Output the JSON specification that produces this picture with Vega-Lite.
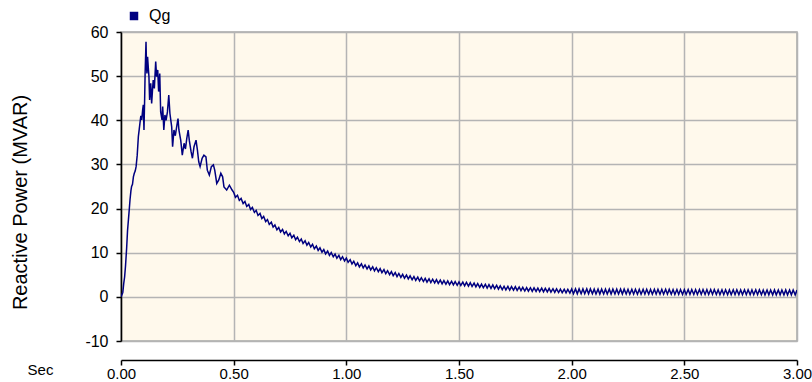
{
  "$schema": "https://vega.github.io/schema/vega-lite/v6.json",
  "width": 676,
  "height": 309,
  "autosize": {"type": "none"},
  "padding": {"left": 121, "top": 32, "right": 15, "bottom": 41},
  "background": "#ffffff",
  "config": {
    "font": "Liberation Sans",
    "view": {"fill": "#FFF9EC", "stroke": "#A8A8A8", "strokeWidth": 1.5}
  },
  "data": {"values": [
    {"t":0,"q":0},{"t":0.004,"q":0.5},{"t":0.008,"q":1.0},{"t":0.012,"q":3.0},{"t":0.016,"q":4.5},{"t":0.020,"q":7},{"t":0.025,"q":11},{"t":0.029,"q":15},{"t":0.033,"q":17.5},{"t":0.037,"q":20},{"t":0.040,"q":22},{"t":0.044,"q":24},{"t":0.047,"q":25},{"t":0.051,"q":25.5},{"t":0.055,"q":27.2},{"t":0.059,"q":28},{"t":0.063,"q":28.5},{"t":0.067,"q":29.5},{"t":0.072,"q":32.1},{"t":0.077,"q":36.3},{"t":0.081,"q":38},{"t":0.084,"q":39.3},{"t":0.088,"q":41},{"t":0.092,"q":40.1},{"t":0.096,"q":42.3},{"t":0.099,"q":43.5},{"t":0.102,"q":37.8},{"t":0.105,"q":45},{"t":0.107,"q":50.6},{"t":0.111,"q":57.8},{"t":0.113,"q":53},{"t":0.115,"q":50.6},{"t":0.118,"q":54.4},{"t":0.121,"q":52},{"t":0.124,"q":49.9},{"t":0.127,"q":44.6},{"t":0.132,"q":48.4},{"t":0.136,"q":43.8},{"t":0.140,"q":47},{"t":0.143,"q":49.1},{"t":0.148,"q":47.2},{"t":0.154,"q":53.3},{"t":0.158,"q":49.9},{"t":0.163,"q":51.4},{"t":0.167,"q":46.5},{"t":0.172,"q":50.6},{"t":0.176,"q":41.9},{"t":0.182,"q":40.1},{"t":0.185,"q":43.1},{"t":0.190,"q":37.8},{"t":0.195,"q":41.2},{"t":0.200,"q":40},{"t":0.206,"q":41.9},{"t":0.212,"q":45.7},{"t":0.217,"q":41.6},{"t":0.225,"q":38.5},{"t":0.229,"q":34.0},{"t":0.235,"q":37.8},{"t":0.241,"q":36.5},{"t":0.247,"q":38.5},{"t":0.253,"q":40.4},{"t":0.257,"q":37.8},{"t":0.265,"q":35.5},{"t":0.272,"q":32.1},{"t":0.280,"q":34.8},{"t":0.286,"q":33.5},{"t":0.292,"q":35.9},{"t":0.298,"q":37.8},{"t":0.303,"q":35.5},{"t":0.311,"q":32.9},{"t":0.317,"q":31.4},{"t":0.324,"q":34.0},{"t":0.333,"q":35.5},{"t":0.339,"q":33.3},{"t":0.345,"q":30.6},{"t":0.351,"q":29.5},{"t":0.360,"q":31.4},{"t":0.368,"q":32.1},{"t":0.377,"q":31.7},{"t":0.383,"q":28.7},{"t":0.392,"q":27.6},{"t":0.401,"q":29.5},{"t":0.410,"q":29.9},{"t":0.416,"q":28.7},{"t":0.425,"q":25.7},{"t":0.434,"q":26.5},{"t":0.443,"q":28.0},{"t":0.451,"q":27.2},{"t":0.457,"q":24.9},{"t":0.469,"q":24.2},{"t":0.481,"q":25.3},{"t":0.493,"q":24.2},
    {"t":0.500,"q":23.7},{"t":0.508,"q":22.55},{"t":0.517,"q":23.0},{"t":0.525,"q":21.85},{"t":0.533,"q":22.3},{"t":0.542,"q":21.15},
    {"t":0.550,"q":21.6},{"t":0.558,"q":20.47},{"t":0.567,"q":20.93},{"t":0.575,"q":19.8},{"t":0.583,"q":20.27},{"t":0.592,"q":19.13},
    {"t":0.600,"q":19.6},{"t":0.608,"q":18.45},{"t":0.617,"q":18.9},{"t":0.625,"q":17.75},{"t":0.633,"q":18.2},{"t":0.642,"q":17.05},
    {"t":0.650,"q":17.5},{"t":0.658,"q":16.4},{"t":0.667,"q":16.9},{"t":0.675,"q":15.8},{"t":0.683,"q":16.3},{"t":0.692,"q":15.2},
    {"t":0.700,"q":15.7},{"t":0.708,"q":14.68},{"t":0.717,"q":15.27},{"t":0.725,"q":14.25},{"t":0.733,"q":14.83},{"t":0.742,"q":13.82},
    {"t":0.750,"q":14.4},{"t":0.758,"q":13.38},{"t":0.767,"q":13.97},{"t":0.775,"q":12.95},{"t":0.783,"q":13.53},{"t":0.792,"q":12.52},
    {"t":0.800,"q":13.1},{"t":0.808,"q":12.1},{"t":0.817,"q":12.7},{"t":0.825,"q":11.7},{"t":0.833,"q":12.3},{"t":0.842,"q":11.3},
    {"t":0.850,"q":11.9},{"t":0.858,"q":10.9},{"t":0.867,"q":11.5},{"t":0.875,"q":10.5},{"t":0.883,"q":11.1},{"t":0.892,"q":10.1},
    {"t":0.900,"q":10.7},{"t":0.908,"q":9.73},{"t":0.917,"q":10.37},{"t":0.925,"q":9.4},{"t":0.933,"q":10.03},{"t":0.942,"q":9.07},
    {"t":0.950,"q":9.7},{"t":0.958,"q":8.75},{"t":0.967,"q":9.4},{"t":0.975,"q":8.45},{"t":0.983,"q":9.1},{"t":0.992,"q":8.15},
    {"t":1.000,"q":8.8},{"t":1.008,"q":7.82},{"t":1.017,"q":8.43},{"t":1.025,"q":7.45},{"t":1.033,"q":8.07},{"t":1.042,"q":7.08},
    {"t":1.050,"q":7.7},{"t":1.058,"q":6.78},{"t":1.067,"q":7.47},{"t":1.075,"q":6.55},{"t":1.083,"q":7.23},{"t":1.092,"q":6.32},
    {"t":1.100,"q":7.0},{"t":1.108,"q":6.1},{"t":1.117,"q":6.8},{"t":1.125,"q":5.9},{"t":1.133,"q":6.6},{"t":1.142,"q":5.7},
    {"t":1.150,"q":6.4},{"t":1.158,"q":5.48},{"t":1.167,"q":6.17},{"t":1.175,"q":5.25},{"t":1.183,"q":5.93},{"t":1.192,"q":5.02},
    {"t":1.200,"q":5.7},{"t":1.208,"q":4.8},{"t":1.217,"q":5.5},{"t":1.225,"q":4.6},{"t":1.233,"q":5.3},{"t":1.242,"q":4.4},
    {"t":1.250,"q":5.1},{"t":1.258,"q":4.22},{"t":1.267,"q":4.93},{"t":1.275,"q":4.05},{"t":1.283,"q":4.77},{"t":1.292,"q":3.88},
    {"t":1.300,"q":4.6},{"t":1.308,"q":3.73},{"t":1.317,"q":4.47},{"t":1.325,"q":3.6},{"t":1.333,"q":4.33},{"t":1.342,"q":3.47},
    {"t":1.350,"q":4.2},{"t":1.358,"q":3.35},{"t":1.367,"q":4.1},{"t":1.375,"q":3.25},{"t":1.383,"q":4.0},{"t":1.392,"q":3.15},
    {"t":1.400,"q":3.9},{"t":1.408,"q":3.05},{"t":1.417,"q":3.8},{"t":1.425,"q":2.95},{"t":1.433,"q":3.7},{"t":1.442,"q":2.85},
    {"t":1.450,"q":3.6},{"t":1.458,"q":2.77},{"t":1.467,"q":3.53},{"t":1.475,"q":2.7},{"t":1.483,"q":3.47},{"t":1.492,"q":2.63},
    {"t":1.500,"q":3.4},{"t":1.508,"q":2.57},{"t":1.517,"q":3.33},{"t":1.525,"q":2.5},{"t":1.533,"q":3.27},{"t":1.542,"q":2.43},
    {"t":1.550,"q":3.2},{"t":1.558,"q":2.35},{"t":1.567,"q":3.1},{"t":1.575,"q":2.25},{"t":1.583,"q":3.0},{"t":1.592,"q":2.15},
    {"t":1.600,"q":2.9},{"t":1.608,"q":2.07},{"t":1.617,"q":2.83},{"t":1.625,"q":2.0},{"t":1.633,"q":2.77},{"t":1.642,"q":1.93},
    {"t":1.650,"q":2.7},{"t":1.658,"q":1.85},{"t":1.667,"q":2.6},{"t":1.675,"q":1.75},{"t":1.683,"q":2.5},{"t":1.692,"q":1.65},
    {"t":1.700,"q":2.4},{"t":1.708,"q":1.58},{"t":1.717,"q":2.37},{"t":1.725,"q":1.55},{"t":1.733,"q":2.33},{"t":1.742,"q":1.52},
    {"t":1.750,"q":2.3},{"t":1.758,"q":1.47},{"t":1.767,"q":2.23},{"t":1.775,"q":1.4},{"t":1.783,"q":2.17},{"t":1.792,"q":1.33},
    {"t":1.800,"q":2.1},{"t":1.808,"q":1.28},{"t":1.817,"q":2.07},{"t":1.825,"q":1.25},{"t":1.833,"q":2.03},{"t":1.842,"q":1.22},
    {"t":1.850,"q":2.0},{"t":1.858,"q":1.18},{"t":1.867,"q":1.97},{"t":1.875,"q":1.15},{"t":1.883,"q":1.93},{"t":1.892,"q":1.12},
    {"t":1.900,"q":1.9},{"t":1.908,"q":1.08},{"t":1.917,"q":1.85},{"t":1.925,"q":1.03},{"t":1.933,"q":1.8},{"t":1.942,"q":0.98},
    {"t":1.950,"q":1.75},{"t":1.958,"q":0.93},{"t":1.967,"q":1.72},{"t":1.975,"q":0.9},{"t":1.983,"q":1.68},{"t":1.992,"q":0.87},
    {"t":2.000,"q":1.8},{"t":2.008,"q":0.7},{"t":2.017,"q":1.8},{"t":2.025,"q":0.7},{"t":2.033,"q":1.8},{"t":2.042,"q":0.7},
    {"t":2.050,"q":1.8},{"t":2.058,"q":0.7},{"t":2.067,"q":1.8},{"t":2.075,"q":0.7},{"t":2.083,"q":1.8},{"t":2.092,"q":0.7},
    {"t":2.100,"q":1.75},{"t":2.108,"q":0.65},{"t":2.117,"q":1.75},{"t":2.125,"q":0.65},{"t":2.133,"q":1.75},{"t":2.142,"q":0.65},
    {"t":2.150,"q":1.75},{"t":2.158,"q":0.65},{"t":2.167,"q":1.75},{"t":2.175,"q":0.65},{"t":2.183,"q":1.75},{"t":2.192,"q":0.65},
    {"t":2.200,"q":1.75},{"t":2.208,"q":0.65},{"t":2.217,"q":1.75},{"t":2.225,"q":0.65},{"t":2.233,"q":1.75},{"t":2.242,"q":0.65},
    {"t":2.250,"q":1.7},{"t":2.258,"q":0.6},{"t":2.267,"q":1.7},{"t":2.275,"q":0.6},{"t":2.283,"q":1.7},{"t":2.292,"q":0.6},
    {"t":2.300,"q":1.7},{"t":2.308,"q":0.6},{"t":2.317,"q":1.7},{"t":2.325,"q":0.6},{"t":2.333,"q":1.7},{"t":2.342,"q":0.6},
    {"t":2.350,"q":1.7},{"t":2.358,"q":0.6},{"t":2.367,"q":1.7},{"t":2.375,"q":0.6},{"t":2.383,"q":1.7},{"t":2.392,"q":0.6},
    {"t":2.400,"q":1.7},{"t":2.408,"q":0.6},{"t":2.417,"q":1.7},{"t":2.425,"q":0.6},{"t":2.433,"q":1.7},{"t":2.442,"q":0.6},
    {"t":2.450,"q":1.65},{"t":2.458,"q":0.55},{"t":2.467,"q":1.65},{"t":2.475,"q":0.55},{"t":2.483,"q":1.65},{"t":2.492,"q":0.55},
    {"t":2.500,"q":1.65},{"t":2.508,"q":0.55},{"t":2.517,"q":1.65},{"t":2.525,"q":0.55},{"t":2.533,"q":1.65},{"t":2.542,"q":0.55},
    {"t":2.550,"q":1.65},{"t":2.558,"q":0.55},{"t":2.567,"q":1.65},{"t":2.575,"q":0.55},{"t":2.583,"q":1.65},{"t":2.592,"q":0.55},
    {"t":2.600,"q":1.65},{"t":2.608,"q":0.55},{"t":2.617,"q":1.65},{"t":2.625,"q":0.55},{"t":2.633,"q":1.65},{"t":2.642,"q":0.55},
    {"t":2.650,"q":1.6},{"t":2.658,"q":0.5},{"t":2.667,"q":1.6},{"t":2.675,"q":0.5},{"t":2.683,"q":1.6},{"t":2.692,"q":0.5},
    {"t":2.700,"q":1.6},{"t":2.708,"q":0.5},{"t":2.717,"q":1.6},{"t":2.725,"q":0.5},{"t":2.733,"q":1.6},{"t":2.742,"q":0.5},
    {"t":2.750,"q":1.6},{"t":2.758,"q":0.5},{"t":2.767,"q":1.6},{"t":2.775,"q":0.5},{"t":2.783,"q":1.6},{"t":2.792,"q":0.5},
    {"t":2.800,"q":1.6},{"t":2.808,"q":0.5},{"t":2.817,"q":1.6},{"t":2.825,"q":0.5},{"t":2.833,"q":1.6},{"t":2.842,"q":0.5},
    {"t":2.850,"q":1.55},{"t":2.858,"q":0.45},{"t":2.867,"q":1.55},{"t":2.875,"q":0.45},{"t":2.883,"q":1.55},{"t":2.892,"q":0.45},
    {"t":2.900,"q":1.55},{"t":2.908,"q":0.45},{"t":2.917,"q":1.55},{"t":2.925,"q":0.45},{"t":2.933,"q":1.55},{"t":2.942,"q":0.45},
    {"t":2.950,"q":1.55},{"t":2.958,"q":0.45},{"t":2.967,"q":1.55},{"t":2.975,"q":0.45},{"t":2.983,"q":1.55},{"t":2.992,"q":0.45},
    {"t":3.000,"q":1.55}
  ]},
  "mark": {"type": "line", "strokeWidth": 1.5, "clip": true},
  "encoding": {
    "x": {
      "field": "t", "type": "quantitative",
      "scale": {"domain": [0, 3], "nice": false, "zero": false},
      "axis": {
        "values": [0, 0.5, 1, 1.5, 2, 2.5, 3], "format": ".2f", "offset": 19,
        "domainColor": "#000000", "domainWidth": 1.5, "tickColor": "#000000", "tickSize": 5, "tickWidth": 1.5,
        "labelFontSize": 15, "labelColor": "#000000", "labelPadding": 1, "labelFlush": false, "labelOverlap": false,
        "gridColor": "#B4B4B4", "gridWidth": 1.5,
        "title": "Sec", "titleFontSize": 15, "titleFontWeight": "normal", "titleColor": "#000000",
        "titleX": -81, "titleY": 9, "titleBaseline": "middle", "titleAlign": "center"
      }
    },
    "y": {
      "field": "q", "type": "quantitative",
      "scale": {"domain": [-10, 60], "nice": false},
      "axis": {
        "values": [-10, 0, 10, 20, 30, 40, 50, 60], "labelExpr": "datum.value + ''",
        "domainColor": "#000000", "domainWidth": 1.5, "tickColor": "#000000", "tickSize": 5, "tickWidth": 1.5,
        "labelFontSize": 16, "labelColor": "#000000", "labelPadding": 8, "labelFlush": false, "labelOverlap": false,
        "gridColor": "#B4B4B4", "gridWidth": 1.5,
        "title": "Reactive Power (MVAR)", "titleFontSize": 20, "titleFontWeight": "normal", "titleColor": "#000000",
        "titleAngle": -90, "titleX": -101, "titleY": 170, "titleAlign": "center", "titleBaseline": "middle"
      }
    },
    "color": {
      "datum": "Qg",
      "scale": {"range": ["#000080"]},
      "legend": {
        "orient": "none", "legendX": 5, "legendY": -24, "title": null, "padding": 0,
        "symbolType": "square", "symbolSize": 72, "symbolFillColor": "#000080", "symbolStrokeColor": "#000080", "symbolStrokeWidth": 0,
        "labelFontSize": 16, "labelColor": "#000000", "labelOffset": 7
      }
    }
  }
}
